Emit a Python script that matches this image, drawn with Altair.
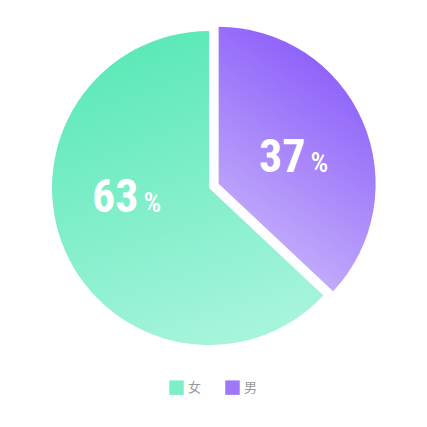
import altair as alt
import pandas as pd
import numpy as np

categories = ["男", "女"]
values = [37, 63]
legend_order = ["女", "男"]
legend_colors = ["#7eeec8", "#9d78f8"]

total = sum(values)
ends = np.cumsum(values)
starts = ends - np.array(values)
df = pd.DataFrame({
    "cat": categories,
    "value": values,
    "start": starts,
    "end": ends,
    "mid": (starts + ends) / 2,
    "num": [str(v) for v in values],
    "pct": ["%"] * len(values),
})

# explode offset for 男 along its bisector
mid_ang = (df.loc[0, "mid"] / total) * 2 * np.pi
explode = 10.5
ex_dx = float(explode * np.sin(mid_ang))
ex_dy = float(-explode * np.cos(mid_ang))

grad_f = {"gradient": "linear", "x1": 0.3, "y1": 0, "x2": 0.6, "y2": 1,
          "stops": [{"offset": 0, "color": "#58e8b6"}, {"offset": 1, "color": "#a6f4dc"}]}
grad_m = {"gradient": "linear", "x1": 0.7, "y1": 0, "x2": 0.3, "y2": 1,
          "stops": [{"offset": 0, "color": "#8656fa"}, {"offset": 1, "color": "#cbb8fa"}]}

tscale = alt.Scale(domain=[0, total], range=[0, 2 * np.pi])
R = 157

base = alt.Chart(df)

arc_m = base.transform_filter(alt.datum.cat == "男").mark_arc(
    fill=grad_m, outerRadius=R, xOffset=ex_dx, yOffset=ex_dy
).encode(theta=alt.Theta("start:Q", scale=tscale), theta2="end:Q")

arc_f = base.transform_filter(alt.datum.cat == "女").mark_arc(
    fill=grad_f, outerRadius=R
).encode(theta=alt.Theta("start:Q", scale=tscale), theta2="end:Q")

legend_layer = base.mark_arc(opacity=0, outerRadius=1).encode(
    theta=alt.Theta("start:Q", scale=tscale), theta2="end:Q",
    color=alt.Color("cat:N", scale=alt.Scale(domain=legend_order, range=legend_colors),
                    legend=alt.Legend(title=None, orient="none", legendX=156, legendY=367,
                                      direction="horizontal", symbolType="square",
                                      symbolSize=210, symbolOpacity=1, symbolStrokeWidth=0,
                                      labelColor="#999999", labelFontSize=13,
                                      labelFont="Noto Sans CJK SC", columnPadding=23,
                                      labelOffset=4)),
)

font = "Roboto Condensed, Roboto, sans-serif"

def labels(cat, radius, dx_extra, dy_extra, ox, oy):
    sub = base.transform_filter(alt.datum.cat == cat)
    num = sub.mark_text(font=font, fontWeight="bold", fontSize=46, color="white",
                        align="right", baseline="alphabetic", radius=radius,
                        dx=dx_extra - 3, dy=dy_extra, xOffset=ox, yOffset=oy).encode(
        theta=alt.Theta("mid:Q", scale=tscale), text="num:N")
    pc = sub.mark_text(font=font, fontWeight=500, fontSize=28, color="white",
                       align="left", baseline="alphabetic", radius=radius,
                       dx=dx_extra + 2, dy=dy_extra, xOffset=ox, yOffset=oy).encode(
        theta=alt.Theta("mid:Q", scale=tscale), text="pct:N")
    return num + pc

lab_m = labels("男", 88, 9, 23, ex_dx, ex_dy)
lab_f = labels("女", 90, 15, -12, 0, 0)

chart = alt.layer(arc_f, arc_m, legend_layer, lab_m, lab_f).properties(
    width=392, height=350
).configure_view(stroke=None).configure_legend(padding=0)

chart.save("out.html", embed_options={"renderer": "svg", "actions": False})
